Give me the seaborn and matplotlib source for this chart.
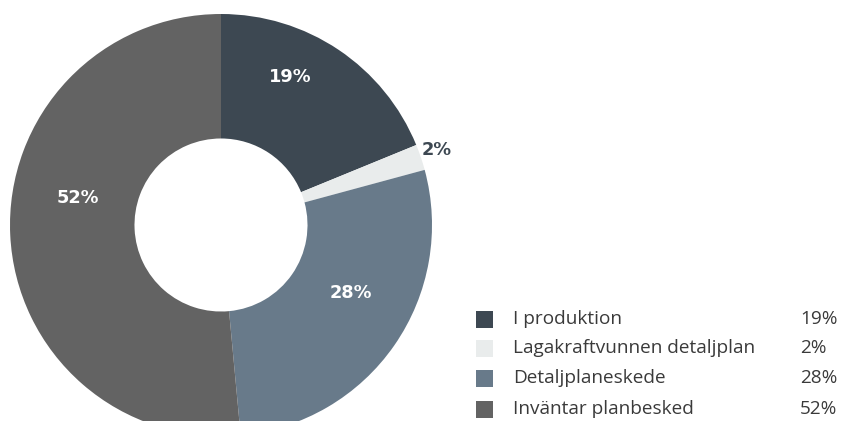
import matplotlib
matplotlib.use("Agg")
import matplotlib.pyplot as plt
import seaborn as sns
import numpy as np
from matplotlib.patches import Rectangle

categories = ["I produktion", "Lagakraftvunnen detaljplan", "Detaljplaneskede", "Inväntar planbesked"]
values = [19, 2, 28, 52]
pct_labels = ["19%", "2%", "28%", "52%"]
colors = ["#3d4852", "#e9ecec", "#687a8a", "#636363"]

sns.set_theme(style="white")
plt.rcParams['font.family'] = ['DejaVu Sans']

W, H = 842, 421
fig = plt.figure(figsize=(W / 100, H / 100), dpi=100)
fig.patch.set_facecolor("white")

cx, cy, R = 221, 225, 211
ax = fig.add_axes([(cx - R) / W, (H - cy - R) / H, 2 * R / W, 2 * R / H])

wedges, _ = ax.pie(values, colors=colors, startangle=90, counterclock=False,
                   radius=1.0, wedgeprops=dict(width=0.59, edgecolor="none"))
ax.set_xlim(-1, 1)
ax.set_ylim(-1, 1)
ax.set_aspect("auto")
ax.axis("off")

# label positions (pixel positions of text centres in the figure)
label_pos = [(290, 77), (437, 150), (351, 293), (78, 198)]
label_col = ["white", "#3d4852", "white", "white"]
for (px, py), t, c in zip(label_pos, pct_labels, label_col):
    fig.text(px / W, 1 - py / H, t, ha="center", va="center", color=c,
             fontsize=12.8, fontweight="bold", family=["DejaVu Sans"], zorder=10)

# legend
rows_y = [319, 348, 378, 409]
for y, cat, v, col in zip(rows_y, categories, values, colors):
    fig.patches.append(Rectangle(((476) / W, 1 - (y + 8.5) / H), 17 / W, 17 / H,
                                 transform=fig.transFigure, facecolor=col, edgecolor="none"))
    fig.text(513 / W, 1 - y / H, cat, ha="left", va="center", color="#3a3a3a",
             fontsize=13.7, family=["Open Sans", "DejaVu Sans"])
    fig.text(800 / W, 1 - y / H, f"{v}%", ha="left", va="center", color="#3a3a3a",
             fontsize=13.7, family=["Open Sans", "DejaVu Sans"])

fig.savefig("out.png", dpi=100)
